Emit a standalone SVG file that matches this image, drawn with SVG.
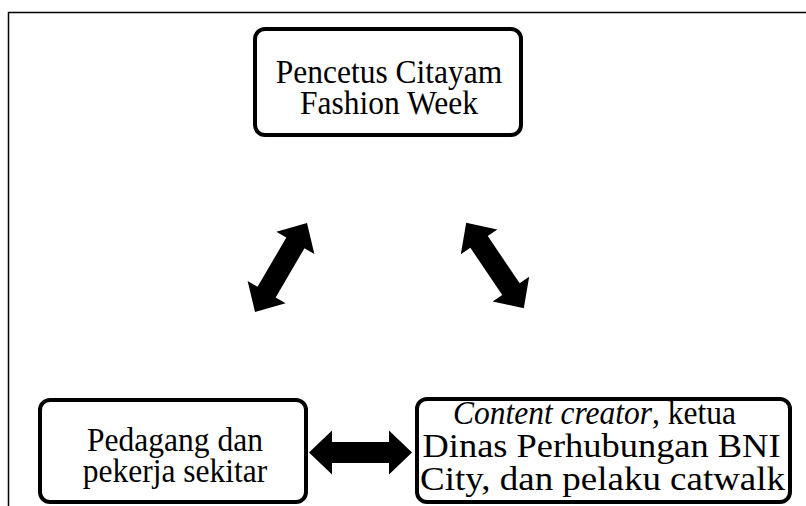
<svg xmlns="http://www.w3.org/2000/svg" width="806" height="506" viewBox="0 0 806 506">
<style>
.box{fill:#fff;stroke:#000;stroke-width:4}
.t{font-family:"Liberation Serif","Times New Roman",serif;font-size:31.5px;fill:#000;text-anchor:middle}
.frame{fill:none;stroke:#000;stroke-width:1.5}
</style>
<defs>
<path id="dbl" d="M-51.5,0 L-28.5,-22 L-28.5,-10.5 L28.5,-10.5 L28.5,-22 L51.5,0 L28.5,22 L28.5,10.5 L-28.5,10.5 L-28.5,22 Z" fill="#000"/>
</defs>
<rect width="806" height="506" fill="#fff"/>
<path class="frame" d="M8.5,506 L8.5,12.5 L806,12.5"/>
<g id="connectors">
<use href="#dbl" transform="translate(281,267.5) rotate(-59.7)"/>
<use href="#dbl" transform="translate(495,265.5) rotate(56)"/>
<use href="#dbl" transform="translate(360.5,452.5)"/>
</g>
<g id="node-top">
<rect class="box" x="255" y="29" width="266" height="106" rx="10"/>
<text class="t" transform="translate(389,83) scale(1,1.1)" font-size="32">Pencetus Citayam</text>
<text class="t" transform="translate(389,114) scale(1,1.1)" font-size="32">Fashion Week</text>
</g>
<g id="node-left">
<rect class="box" x="40" y="400" width="266" height="102" rx="10"/>
<text class="t" transform="translate(175,451) scale(1,1.1)">Pedagang dan</text>
<text class="t" transform="translate(175,482) scale(1,1.1)">pekerja sekitar</text>
</g>
<g id="node-right">
<rect class="box" x="417" y="399" width="373" height="103" rx="10"/>
<text class="t" transform="translate(594.5,424) scale(1,1.1)" font-size="32"><tspan font-style="italic">Content creator</tspan>, ketua</text>
<text class="t" transform="translate(601.5,457) scale(1,1.05)" font-size="34" textLength="358" lengthAdjust="spacingAndGlyphs">Dinas Perhubungan BNI</text>
<text class="t" transform="translate(602.5,490) scale(1,1.05)" font-size="34" textLength="365" lengthAdjust="spacingAndGlyphs">City, dan pelaku catwalk</text>
</g>
</svg>
